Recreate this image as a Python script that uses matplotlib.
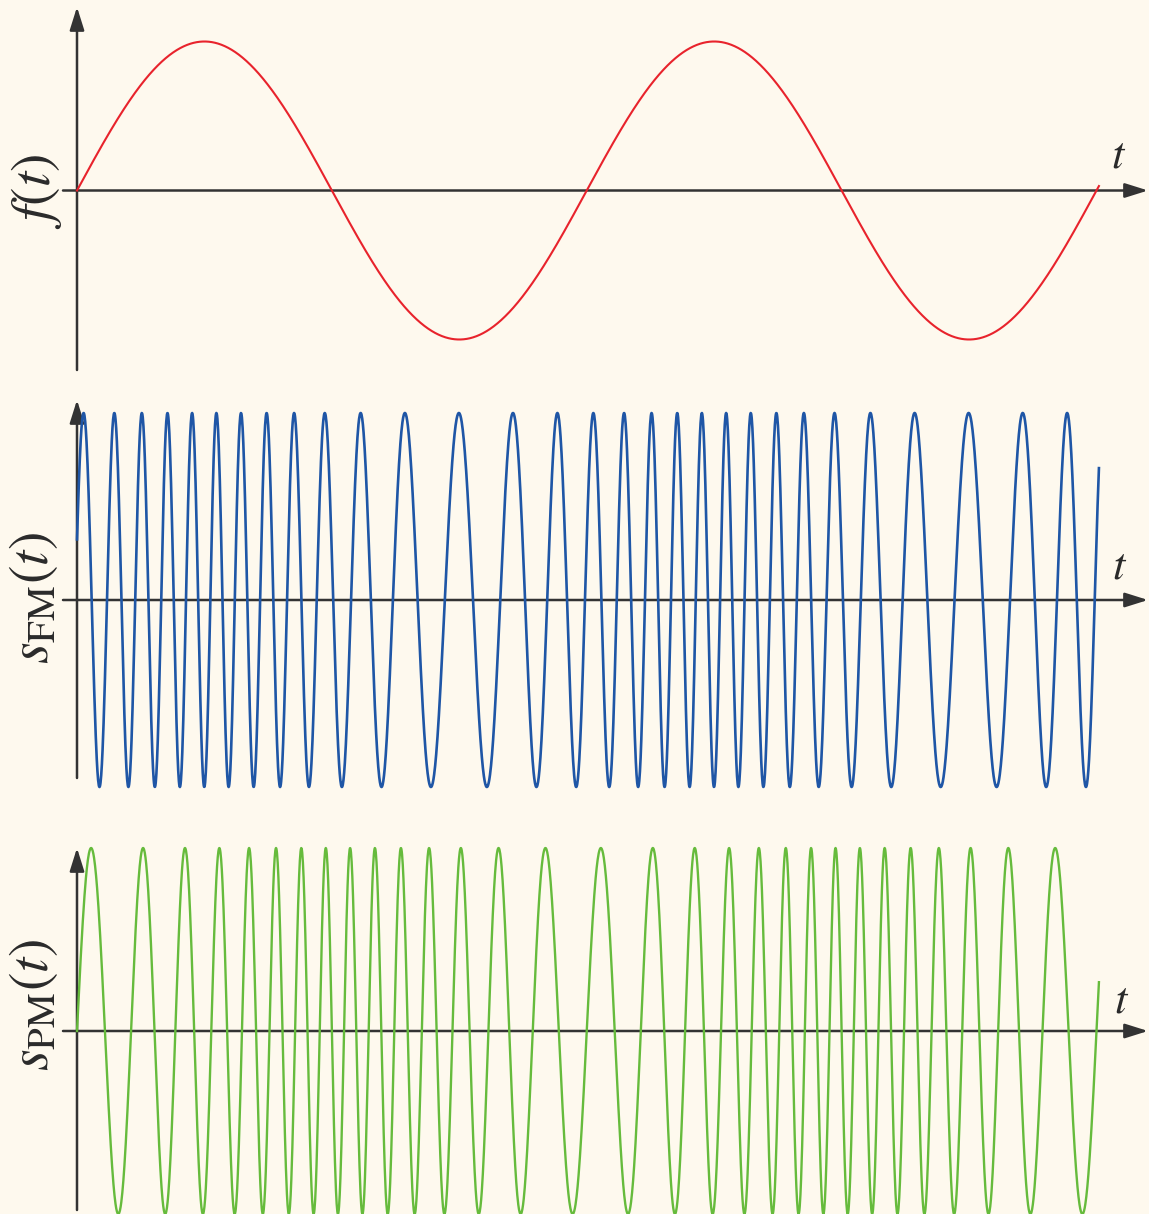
import numpy as np
import matplotlib
matplotlib.use("Agg")
import matplotlib.pyplot as plt

plt.rcParams['mathtext.fontset'] = 'stix'
plt.rcParams['font.family'] = ['STIXGeneral', 'DejaVu Serif']

# ---- signal parameters ----
carrier_freq = 15.0          # carrier cycles per modulating period (rad/unit t)
freq_deviation = 6.0         # FM frequency deviation
phase_deviation = 6.0        # PM phase deviation
fm_phase0 = 6.33             # FM starting phase offset
t_end = 4 * np.pi + 0.03     # two modulating periods
n_samples = 3000

labels = [r'$f(t)$', r'$s_{\mathrm{FM}}(t)$', r'$s_{\mathrm{PM}}(t)$']
colors = ['#E8232C', '#1F56A6', '#66BB3C']
bg = '#FEF9EE'
axis_color = '#333333'

t = np.linspace(0, t_end, n_samples)
f = np.sin(t)
s_fm = np.sin(carrier_freq * t - freq_deviation * np.cos(t) + fm_phase0)
s_pm = np.sin(carrier_freq * t - phase_deviation * np.sin(t))
signals = [f, s_fm, s_pm]

W, H = 1149, 1214
fig = plt.figure(figsize=(W / 100, H / 100), dpi=100, facecolor=bg)

x0_px = 77.0
px_per_unit = (1096.5 - 77.0) / (4 * np.pi)
xlim = (-x0_px / px_per_unit, (W - x0_px) / px_per_unit)

# (band top px, band bottom px, zero px, amplitude px, yaxis top px, yaxis bottom px)
panels = [
    (0, 380, 190.5, 149, 7, 370),
    (390, 800, 600, 187, 400, 778),
    (820, 1214, 1031, 183, 848, 1210),
]
label_pos = [(37, 191), (33, 598), (34, 1005)]
t_pos = [(1119, 157), (1120, 568), (1122, 1002)]
lws = [1.5, 1.9, 1.7]

for i, (top, bot, zero, amp, ytip, ybot) in enumerate(panels):
    ax = fig.add_axes([0, 1 - bot / H, 1, (bot - top) / H])
    ax.set_facecolor(bg)
    ax.set_xlim(*xlim)
    ax.set_ylim(-(bot - zero) / amp, (zero - top) / amp)
    ax.axis('off')
    ax.plot(t, signals[i], color=colors[i], lw=lws[i], zorder=3)
    # x axis arrow
    xs = (63 - x0_px) / px_per_unit
    xe = (1148 - x0_px) / px_per_unit
    ax.annotate('', xy=(xe, 0), xytext=(xs, 0),
                arrowprops=dict(arrowstyle='-|>,head_length=0.7,head_width=0.22',
                                mutation_scale=20, lw=1.8, color=axis_color,
                                shrinkA=0, shrinkB=0), zorder=2)
    # y axis arrow
    ax.annotate('', xy=(0, (zero - ytip) / amp), xytext=(0, (zero - ybot) / amp),
                arrowprops=dict(arrowstyle='-|>,head_length=0.7,head_width=0.22',
                                mutation_scale=20, lw=1.8, color=axis_color,
                                shrinkA=0, shrinkB=0), zorder=2)
    lx, ly = label_pos[i]
    fig.text(lx / W, 1 - ly / H, labels[i], rotation=90, ha='center', va='center',
             fontsize=40, color='#2a2a2a')
    tx, ty = t_pos[i]
    fig.text(tx / W, 1 - ty / H, r'$t$', ha='center', va='center',
             fontsize=32, color='#2a2a2a')

fig.savefig('out.png', dpi=100, facecolor=bg)
